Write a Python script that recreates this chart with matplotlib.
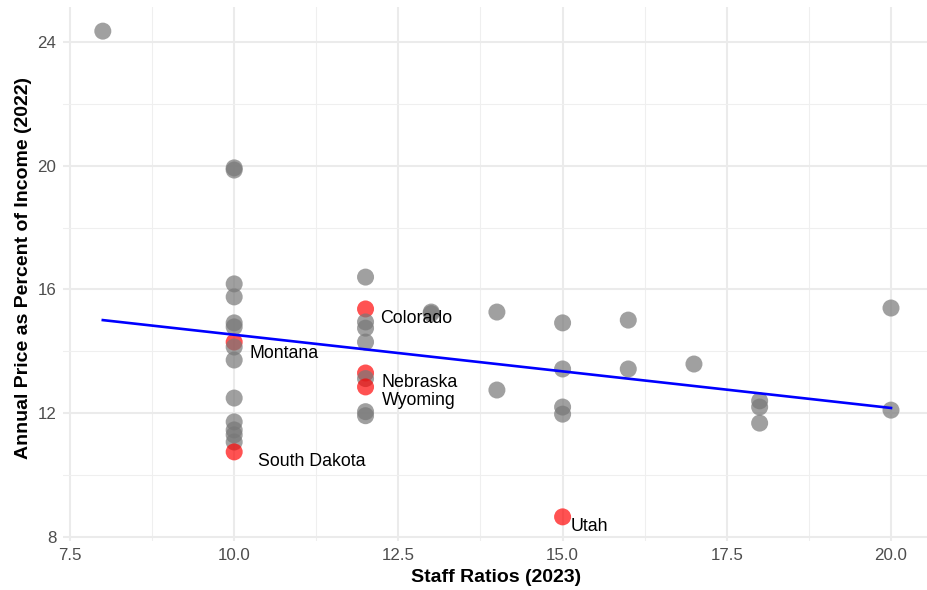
import numpy as np
import matplotlib
matplotlib.use("Agg")
import matplotlib.pyplot as plt
from matplotlib.ticker import MultipleLocator
from matplotlib.colors import to_rgba

plt.rcParams['font.family'] = ['Liberation Sans', 'DejaVu Sans']

# staff ratio (2023) vs annual price as % of income (2022)
staff_ratio = [8,
               10, 10, 10, 10, 10, 10, 10, 10, 10, 10, 10, 10, 10, 10, 10,
               12, 12, 12, 12, 12, 12, 12, 12, 12, 12,
               13, 13, 14, 14,
               15, 15, 15, 15, 15,
               16, 16, 17, 18, 18, 18, 20, 20]
price_pct = [24.35,
             19.93, 19.86, 16.18, 15.76, 14.92, 14.79, 14.30, 14.14, 13.72, 12.49,
             11.72, 11.46, 11.30, 11.07, 10.75,
             16.40, 15.37, 14.95, 14.75, 14.30, 13.30, 13.12, 12.85, 12.05, 11.92,
             15.27, 15.22, 15.27, 12.75,
             14.92, 13.43, 12.20, 11.97, 8.65,
             15.01, 13.43, 13.59, 12.40, 12.20, 11.68, 15.40, 12.10]
state = [""] * len(staff_ratio)
state[7] = "Montana"
state[15] = "South Dakota"
state[17] = "Colorado"
state[21] = "Nebraska"
state[23] = "Wyoming"
state[34] = "Utah"

# trend line as shown on the chart
trend_x = [8, 20]
trend_y = [15.01, 12.17]

# label nudges in pixels (dx, dy)
nudge = {"Montana": (15, -11), "South Dakota": (24, -10), "Colorado": (15, -10),
         "Nebraska": (16, -9), "Wyoming": (16, -14), "Utah": (8, -10)}

x = np.array(staff_ratio, dtype=float)
y = np.array(price_pct)
hl = np.array([s != "" for s in state])

fig = plt.figure(figsize=(9.27, 5.9), dpi=100)
W, H = 927, 590
ax = fig.add_axes([63.4 / W, (H - 541) / H, (W - 63.4) / W, (541 - 7) / H])

ax.set_xlim(7.4, 20.548)
ax.set_ylim(7.87, 25.13)
ax.xaxis.set_major_locator(MultipleLocator(2.5))
ax.xaxis.set_minor_locator(MultipleLocator(1.25))
ax.yaxis.set_major_locator(MultipleLocator(4))
ax.yaxis.set_minor_locator(MultipleLocator(2))
ax.xaxis.set_major_formatter(lambda v, p: f"{v:.1f}")
ax.yaxis.set_major_formatter(lambda v, p: f"{v:.0f}")

ax.grid(which='major', color='#EBEBEB', linewidth=1.5)
ax.grid(which='minor', color='#EFEFEF', linewidth=0.8)
ax.set_axisbelow(True)
for sp in ax.spines.values():
    sp.set_visible(False)
ax.tick_params(which='both', length=0)
ax.tick_params(axis='both', labelsize=12.2, labelcolor='#4D4D4D')
ax.tick_params(axis='x', pad=5)
ax.tick_params(axis='y', pad=5)

cols = [to_rgba('#FF0000', 0.68) if h else to_rgba('#787878', 0.7) for h in hl]
ax.scatter(x, y, s=150, c=cols, linewidths=0, zorder=2)

ax.plot(trend_x, trend_y, color='blue', linewidth=1.9, zorder=3)

px = 72 / 100
for xi, yi, s in zip(x, y, state):
    if s:
        dx, dy = nudge[s]
        ax.annotate(s, (xi, yi), xytext=(dx * px, dy * px), textcoords='offset points',
                    ha='left', va='center', fontsize=12.8, color='black', zorder=4)

fig.text(496 / W, 1 - 578 / H, "Staff Ratios (2023)", ha='center', va='center',
         fontsize=14, fontweight='bold')
fig.text(24 / W, 1 - 268 / H, "Annual Price as Percent of Income (2022)", ha='center',
         va='center', rotation=90, fontsize=14, fontweight='bold')

fig.savefig("out.png", dpi=100)
